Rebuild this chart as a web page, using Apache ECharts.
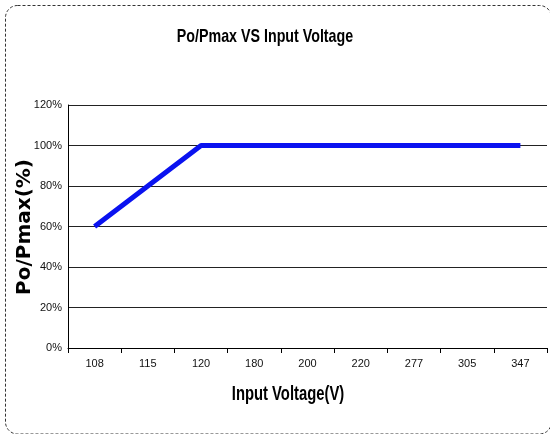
<!DOCTYPE html>
<html lang="en">
<head>
  <meta charset="UTF-8">
  <script src="https://cdn.jsdelivr.net/npm/echarts@6/dist/echarts.min.js"></script>
  <style>
    html, body { margin: 0; background: #fff; }
    #chart { width: 550px; height: 434px; }
  </style>
</head>
<body>
  <div id="chart"></div>
  <script>
    var voltages = ['108', '115', '120', '180', '200', '220', '277', '305', '347'];
    var ratio = [60, 80, 100, 100, 100, 100, 100, 100, 100];

    var sans = '"Liberation Sans", Arial, sans-serif';
    var chart = echarts.init(document.getElementById('chart'), null, { renderer: 'canvas' });

    var option = {
      animation: false,
      graphic: [
        {
          // dashed rounded frame, right side runs off the picture
          type: 'rect',
          shape: { x: 5.5, y: 5.5, width: 546, height: 428.5, r: 12 },
          style: { fill: 'none', stroke: '#333', lineWidth: 1, lineDash: [3, 2] }
        },
        {
          // title, squeezed to look condensed
          type: 'text',
          x: 265, y: 37, scaleX: 0.75,
          style: {
            text: 'Po/Pmax VS Input Voltage',
            font: 'bold 19px ' + sans,
            fill: '#000', align: 'center', verticalAlign: 'middle'
          }
        },
        {
          type: 'text',
          x: 288, y: 394, scaleX: 0.74,
          style: {
            text: 'Input Voltage(V)',
            font: 'bold 20px ' + sans,
            fill: '#000', align: 'center', verticalAlign: 'middle'
          }
        },
        {
          type: 'text',
          x: 25, y: 227, rotation: Math.PI / 2,
          style: {
            text: 'Po/Pmax(%)',
            font: 'bold 20px "DejaVu Sans", sans-serif',
            fill: '#000', align: 'center', verticalAlign: 'middle'
          }
        }
      ],
      grid: { left: 68, right: 3, top: 105, bottom: 86, containLabel: false, outerBoundsMode: 'none' },
      xAxis: {
        type: 'category',
        data: voltages,
        boundaryGap: true,
        axisLine: { lineStyle: { color: '#000', width: 1 } },
        axisTick: { show: true, length: 5, lineStyle: { color: '#000' } },
        axisLabel: { fontFamily: sans, fontSize: 11, color: '#111', margin: 10 }
      },
      yAxis: {
        type: 'value',
        min: 0,
        max: 120,
        interval: 20,
        axisLine: { show: true, lineStyle: { color: '#000', width: 1 } },
        axisTick: { show: false },
        axisLabel: { fontFamily: sans, fontSize: 11, color: '#111', margin: 6, formatter: '{value}%' },
        splitLine: { lineStyle: { color: '#222', width: 1.2 } }
      },
      series: [{
        type: 'line',
        data: ratio,
        symbol: 'none',
        lineStyle: { color: '#0a12f0', width: 5 },
        itemStyle: { color: '#0a12f0' }
      }]
    };

    chart.setOption(option);
  </script>
</body>
</html>
